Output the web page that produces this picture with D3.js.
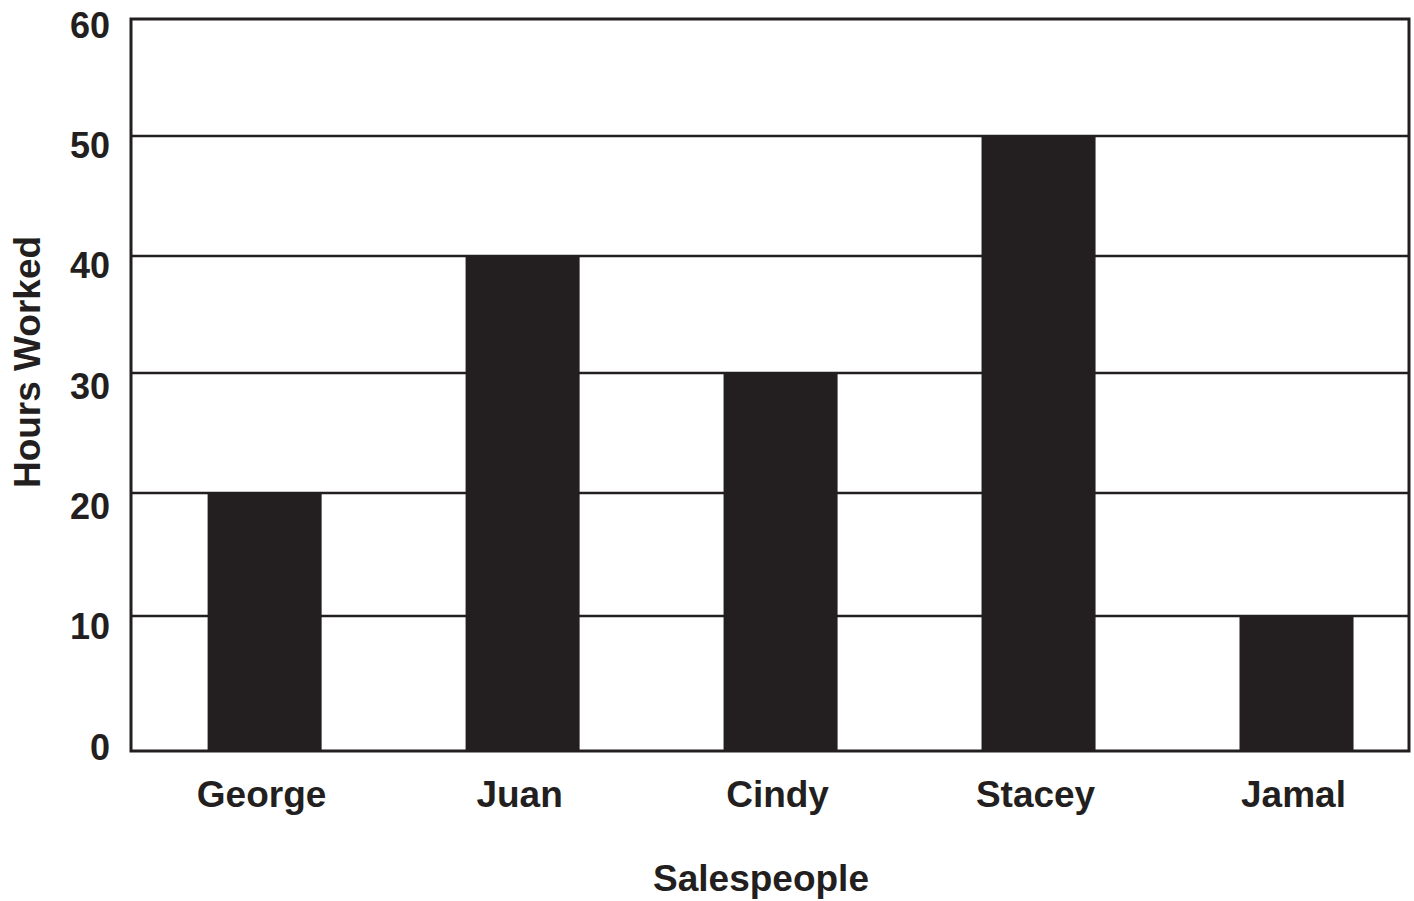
<!DOCTYPE html>
<html>
<head>
<meta charset="utf-8">
<script src="https://cdn.jsdelivr.net/npm/d3@7"></script>
<style>
  html, body { margin: 0; padding: 0; background: #fff; }
  svg text { font-family: "Liberation Sans", Arial, Helvetica, sans-serif; font-weight: bold; fill: #231f20; }
</style>
</head>
<body>
<svg id="chart" width="1414" height="901"></svg>
<script>
(function() {

const salespeople = ['George', 'Juan', 'Cindy', 'Stacey', 'Jamal'];
const hoursWorked = [20, 40, 30, 50, 10];
const yTicks = [0, 10, 20, 30, 40, 50, 60];

const ink = '#231f20';

var svg = d3.select('#chart');

var left = 131, right = 1409, top = 19, bottom = 751;

// the printed grid is not quite evenly spaced, so the scale follows it
var y = d3.scaleLinear()
    .domain(yTicks)
    .range([751, 616, 493, 373, 256, 136, 19]);

// tick labels sit on an even spacing of their own
var yLabel = d3.scaleLinear()
    .domain([0, 60])
    .range([747, 25]);

var x = d3.scaleBand()
    .domain(salespeople)
    .range([left, right])
    .paddingInner(0.558)
    .paddingOuter(0.256)
    .align(0.58);

// gridlines
svg.append('g')
    .selectAll('line')
    .data(yTicks.filter(function(t) { return t > 0 && t < 60; }))
  .enter().append('line')
    .attr('x1', left)
    .attr('x2', right)
    .attr('y1', function(d) { return y(d); })
    .attr('y2', function(d) { return y(d); })
    .attr('stroke', ink)
    .attr('stroke-width', 2.5);

// bars
svg.append('g')
    .selectAll('rect')
    .data(hoursWorked)
  .enter().append('rect')
    .attr('x', function(d, i) { return x(salespeople[i]); })
    .attr('width', x.bandwidth())
    .attr('y', function(d) { return y(d); })
    .attr('height', function(d) { return y(0) - y(d); })
    .attr('fill', ink);

// frame
svg.append('rect')
    .attr('x', left)
    .attr('y', top)
    .attr('width', right - left)
    .attr('height', bottom - top)
    .attr('fill', 'none')
    .attr('stroke', ink)
    .attr('stroke-width', 3);

// y tick labels
svg.append('g')
    .selectAll('text')
    .data(yTicks)
  .enter().append('text')
    .attr('x', left - 21)
    .attr('y', function(d) { return yLabel(d); })
    .attr('dy', '0.35em')
    .attr('text-anchor', 'end')
    .style('font-size', '36px')
    .text(function(d) { return d; });

// x category labels
svg.append('g')
    .selectAll('text')
    .data(salespeople)
  .enter().append('text')
    .attr('x', function(d) { return x(d) + x.bandwidth() / 2 - 3; })
    .attr('y', 807)
    .attr('text-anchor', 'middle')
    .style('font-size', '37px')
    .text(function(d) { return d; });

// axis titles
svg.append('text')
    .attr('x', 761)
    .attr('y', 891)
    .attr('text-anchor', 'middle')
    .style('font-size', '37px')
    .text('Salespeople');

svg.append('text')
    .attr('transform', 'translate(40,362) rotate(-90)')
    .attr('text-anchor', 'middle')
    .style('font-size', '37px')
    .text('Hours Worked');

})();
</script>
</body>
</html>
